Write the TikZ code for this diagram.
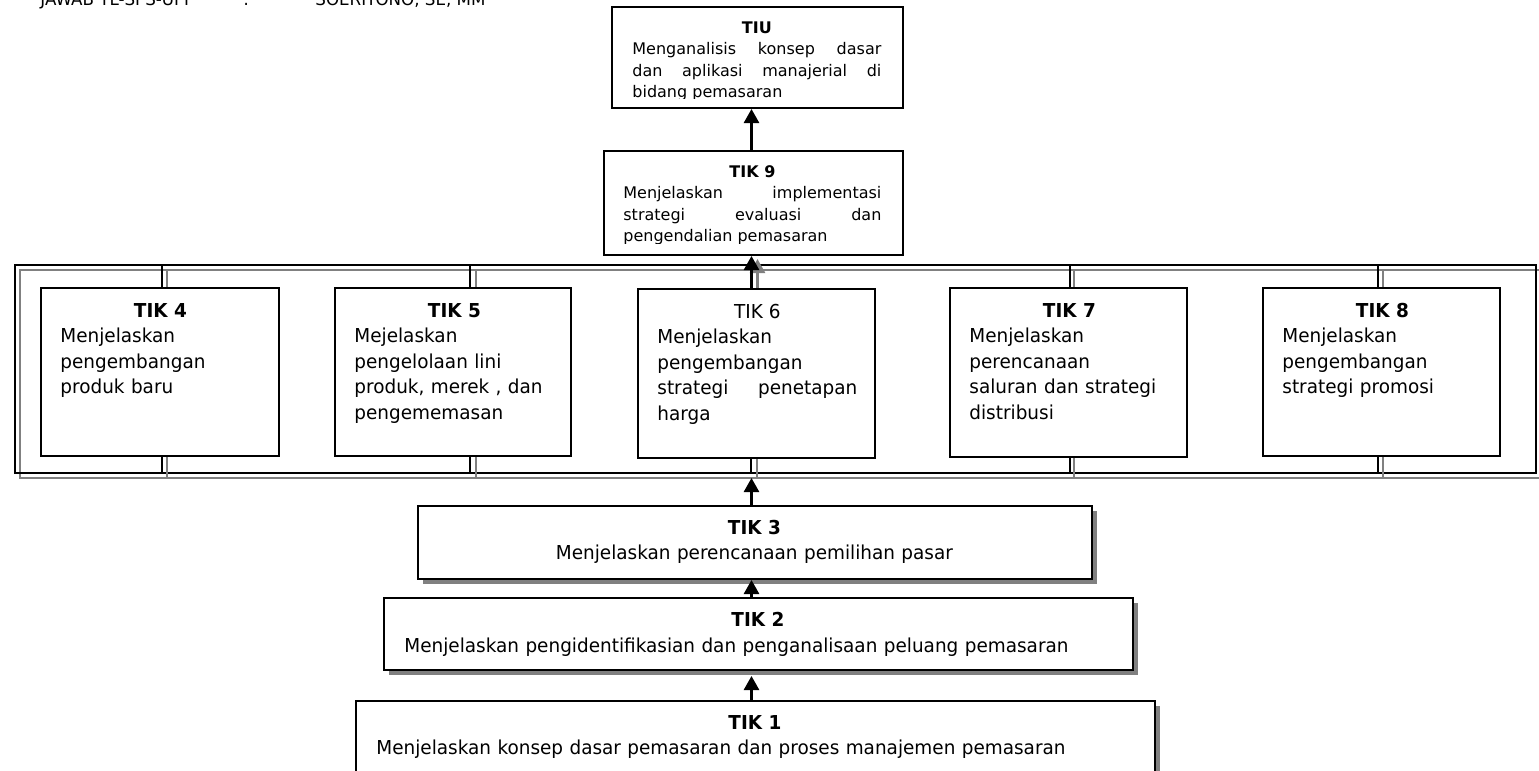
\documentclass[tikz,border=0pt]{standalone}
\usepackage{fontspec}
\setmainfont{DejaVu Sans}
\newfontfamily\narrowsans[FakeStretch=0.96]{DejaVu Sans}
\usetikzlibrary{arrows.meta,shadows}

\definecolor{shadowgray}{gray}{0.5}

\tikzset{
  goalbox/.style={draw, line width=1pt, fill=white, inner sep=0pt, anchor=north west},
  shadowbox/.style={goalbox, drop shadow={shadow xshift=2.5pt, shadow yshift=-2.5pt, fill=shadowgray, opacity=1}},
  goaltext/.style={inner sep=0pt, anchor=base west, align=left, text width=100pt,
    font=\narrowsans\fontsize{9.6}{12.8}\selectfont},
  widetext/.style={goaltext, text width=#1},
  toptext/.style={inner sep=0pt, anchor=base west, align=justify, text width=#1,
    font=\fontsize{8}{10.75}\selectfont},
  headtext/.style={inner sep=0pt, anchor=base west, font=\narrowsans\fontsize{8.7}{10}\selectfont},
  uparrow/.style={line width=1.3pt, -{Triangle[length=7pt,width=7.5pt]}},
  frameline/.style={line width=1pt},
  frameshade/.style={line width=1pt, shadowgray}
}

\begin{document}
\begin{tikzpicture}[x=0.5pt, y=-0.5pt]

    % --- Sheet: units are pixels, y runs downwards ---
    \useasboundingbox (0,0) rectangle (1539,771);

    % --- Coordinates ---
    \coordinate (spine) at (751.5,0);
    \coordinate (frameNW) at (15,265);
    \coordinate (frameSE) at (1536,473);
    \coordinate (frameS) at (751.5,478);

    % --- Header line (cut by the page edge) ---
    \node[headtext] (hdrunit) at (40,5) {JAWAB TL-SPS-UPI};
    \node[headtext] (hdrcolon) at (243,5) {:};
    \node[headtext] (hdrname) at (315,5) {SOERIYONO, SE, MM};

    % --- Frame round TIK 4 .. TIK 8 (black with grey copy) ---
    \draw[frameshade] (20,270) rectangle (1541,478);
    \draw[frameline] (frameNW) rectangle (frameSE);

    % Column rules of the frame
    \draw[frameshade] (167,270) -- (167,478);
    \draw[frameshade] (476,270) -- (476,478);
    \draw[frameshade] (757,270) -- (757,478);
    \draw[frameshade] (1074,270) -- (1074,478);
    \draw[frameshade] (1383,270) -- (1383,478);
    \draw[frameline] (162,265) -- (162,473);
    \draw[frameline] (470,265) -- (470,473);
    \draw[frameline] (751,265) -- (751,473);
    \draw[frameline] (1070,265) -- (1070,473);
    \draw[frameline] (1378,265) -- (1378,473);

    % --- Boxes ---
    \node[goalbox, minimum width=145.5pt, minimum height=50.5pt] (tiu) at (611,6) {};
    \node[goalbox, minimum width=149.5pt, minimum height=52pt] (tik9) at (603,150) {};

    % grey copy of the arrow into TIK 9
    \draw[uparrow, shadowgray, transform canvas={xshift=3pt, yshift=-2.5pt}]
      (spine |- 288,288) -- (spine |- 254,254);

    \node[goalbox, minimum width=119pt, minimum height=84pt] (tik4) at (40,287) {};
    \node[goalbox, minimum width=118pt, minimum height=84pt] (tik5) at (334,287) {};
    \node[goalbox, minimum width=118.5pt, minimum height=84.5pt] (tik6) at (637,288) {};
    \node[goalbox, minimum width=118.5pt, minimum height=84.5pt] (tik7) at (949,287) {};
    \node[goalbox, minimum width=118.5pt, minimum height=84pt] (tik8) at (1262,287) {};

    \node[shadowbox, minimum width=337pt, minimum height=36.5pt] (tik3) at (417,505) {};
    \node[shadowbox, minimum width=374.5pt, minimum height=36pt] (tik2) at (383,597) {};
    \node[shadowbox, minimum width=399.5pt, minimum height=50pt] (tik1) at (355,700) {};

    % --- Texts ---
    \begin{scope}
      \clip (611,6) rectangle (902,98.5);
      \node[toptext=124.5pt] (tiutxt) at (632,33)
        {\hfill\textbf{TIU}\hfill\null\\ Menganalisis konsep dasar\linebreak
         dan aplikasi manajerial di\linebreak bidang pemasaran};
    \end{scope}
    \begin{scope}
      \clip (603,150) rectangle (902,243);
      \node[toptext=129pt] (tik9txt) at (623,177)
        {\hfill\textbf{TIK 9}\hfill\null\\ Menjelaskan implementasi\linebreak
         strategi evaluasi dan\linebreak pengendalian pemasaran};
    \end{scope}

    \node[goaltext] (tik4txt) at (60,317)
      {\hfill\textbf{TIK 4}\hfill\null\\ Menjelaskan\\ pengembangan\\ produk baru};
    \node[goaltext] (tik5txt) at (354,317)
      {\hfill\textbf{TIK 5}\hfill\null\\ Mejelaskan\\ pengelolaan lini\\ produk, merek , dan\\ pengememasan};
    \node[goaltext, align=justify] (tik6txt) at (657,318)
      {\hfill TIK 6\hfill\null\\ Menjelaskan\\ pengembangan\\ strategi penetapan\linebreak harga};
    \node[goaltext] (tik7txt) at (969,317)
      {\hfill\textbf{TIK 7}\hfill\null\\ Menjelaskan\\ perencanaan\\ saluran dan strategi\\ distribusi};
    \node[goaltext] (tik8txt) at (1282,317)
      {\hfill\textbf{TIK 8}\hfill\null\\ Menjelaskan\\ pengembangan\\ strategi promosi};

    \node[widetext=316pt, align=center] (tik3txt) at (438,534)
      {\textbf{TIK 3}\\ Menjelaskan perencanaan pemilihan pasar};
    \node[widetext=353.5pt] (tik2txt) at (404,626.5)
      {\hfill\textbf{TIK 2}\hfill\null\\ Menjelaskan pengidentifikasian dan penganalisaan peluang pemasaran};
    \node[widetext=378.5pt] (tik1txt) at (376,729)
      {\hfill\textbf{TIK 1}\hfill\null\\ Menjelaskan konsep dasar pemasaran dan proses manajemen pemasaran};

    % --- Arrows ---
    \draw[uparrow] (tik9.north -| spine) -- (tiu.south -| spine);
    \draw[uparrow] (tik6.north -| spine) -- (tik9.south -| spine);
    \draw[uparrow] (tik3.north -| spine) -- (frameS);
    \draw[uparrow] (tik2.north -| spine) -- (tik3.south -| spine);
    \draw[uparrow, shorten >=2.5pt] (tik1.north -| spine) -- (tik2.south -| spine);

\end{tikzpicture}
\end{document}
